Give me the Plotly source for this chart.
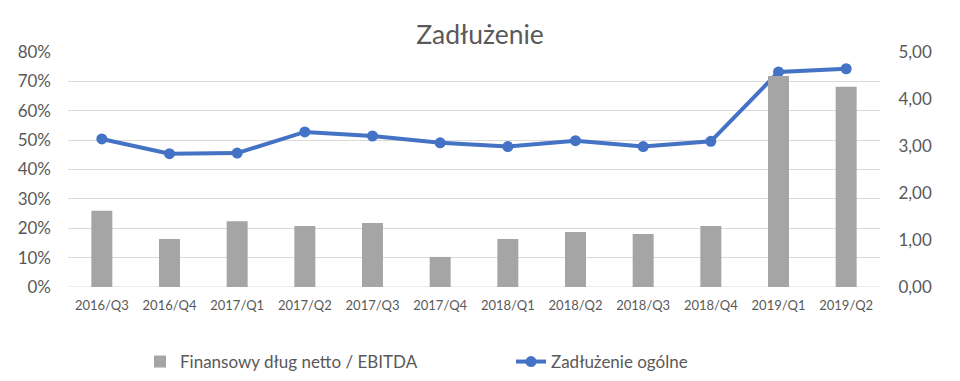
import plotly.graph_objects as go

categories = ["2016/Q3", "2016/Q4", "2017/Q1", "2017/Q2", "2017/Q3", "2017/Q4",
              "2018/Q1", "2018/Q2", "2018/Q3", "2018/Q4", "2019/Q1", "2019/Q2"]
dlug_ebitda = [1.62, 1.02, 1.40, 1.30, 1.36, 0.64, 1.02, 1.17, 1.13, 1.30, 4.49, 4.26]
zadluzenie = [0.504, 0.454, 0.456, 0.528, 0.514, 0.491, 0.478, 0.498, 0.478, 0.496, 0.732, 0.743]

font_main = "Lato, 'Open Sans', sans-serif"
grey_text = "#595959"

fig = go.Figure()
fig.add_trace(go.Bar(
    x=categories, y=dlug_ebitda, name="Finansowy dług netto / EBITDA",
    marker=dict(color="#A5A5A5", line=dict(width=0)), yaxis="y2",
    width=0.31,
))
fig.add_trace(go.Scatter(
    x=categories, y=zadluzenie, name="Zadłużenie ogólne", mode="lines+markers",
    line=dict(color="#4472C4", width=4), marker=dict(size=11, color="#4472C4"),
    yaxis="y",
))

fig.update_layout(
    width=960, height=381,
    margin=dict(l=68, r=80, t=52, b=94, autoexpand=False),
    paper_bgcolor="white", plot_bgcolor="white",
    separators=", ",
    font=dict(family=font_main, color=grey_text),
    title=dict(text="Zadłużenie", x=0.5, xanchor="center", xref="container",
               yref="container", y=1 - 35 / 381, yanchor="middle",
               font=dict(size=26.5, color=grey_text, family=font_main)),
    xaxis=dict(showgrid=False, showline=False, ticks="", tickfont=dict(size=13, color=grey_text),
               zeroline=False, automargin=False, ticklabelstandoff=9,
               range=[-0.5, len(categories) - 0.5]),
    yaxis=dict(range=[0, 0.8], dtick=0.1, tickformat=".0%", showgrid=True, gridcolor="#D9D9D9",
               gridwidth=1, zeroline=False, showline=False, ticks="",
               tickfont=dict(size=17, color=grey_text), automargin=False,
               ticklabelstandoff=16),
    yaxis2=dict(range=[0, 5], dtick=1, tickformat=".2f", overlaying="y", side="right",
                showgrid=False, zeroline=False, showline=False,
                ticks="outside", ticklen=14, tickcolor="rgba(0,0,0,0)",
                tickfont=dict(size=17, color=grey_text), automargin=False),
    legend=dict(orientation="h", x=(140 - 68) / 812, y=-(362 - 287) / 235,
                xanchor="left", yanchor="middle",
                font=dict(size=17, color=grey_text), entrywidth=326, traceorder="normal"),
    bargap=0.69,
)
fig.add_shape(type="line", xref="paper", yref="y", x0=0, x1=1, y0=0, y1=0,
              line=dict(color="#D9D9D9", width=1), layer="below")

fig.write_html("out.html", config={"displayModeBar": False},
               post_script="document.body.style.margin='0';document.body.style.overflow='hidden';")
